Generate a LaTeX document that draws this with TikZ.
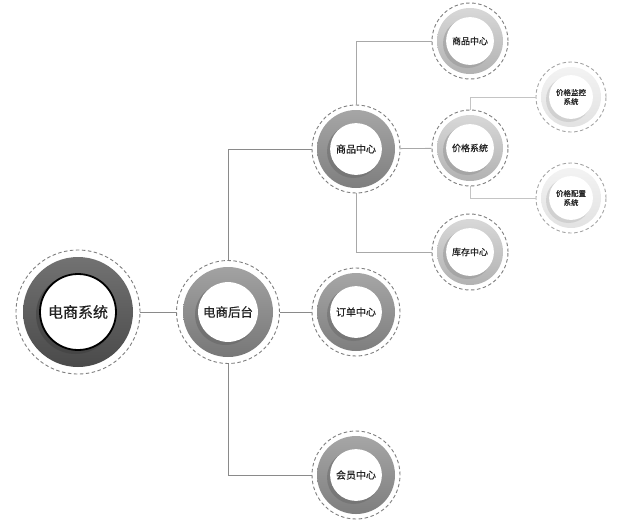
\documentclass[tikz,border=0pt]{standalone}
\usepackage{fontspec}
\setmainfont{Noto Sans CJK SC}[FakeBold=0.6]
\definecolor{dashc}{HTML}{7E7E7E}
\definecolor{dashl}{HTML}{A4A4A4}
\definecolor{txt}{HTML}{222222}
\definecolor{ringA}{HTML}{4A4A4A}\definecolor{ringAl}{HTML}{727272}
\definecolor{ringB}{HTML}{777777}\definecolor{ringBl}{HTML}{A2A2A2}
\definecolor{ringC}{HTML}{7E7E7E}\definecolor{ringCl}{HTML}{A6A6A6}
\definecolor{ringD}{HTML}{B2B2B2}\definecolor{ringDl}{HTML}{D8D8D8}
\definecolor{ringE}{HTML}{E2E2E2}\definecolor{ringEl}{HTML}{F3F3F3}
\definecolor{lineA}{HTML}{8A8A8A}
\definecolor{lineB}{HTML}{A8A8A8}
\definecolor{lineC}{HTML}{C4C4C4}
\tikzset{
  ringnode/.style n args={8}{circle, draw=#7, dash pattern=on 3.5pt off 2.5pt,
    line width=0.9pt, minimum size=#1, inner sep=0pt, align=center,
    text=txt, font=#6,
    path picture={
      \coordinate (pc) at (path picture bounding box.center);
      \shade[shading angle=45, top color=#2, bottom color=#3] (pc) circle (#4);
      \fill[#3!85!black, opacity=0.55] ([shift={(-2.5pt,-2.5pt)}]pc) circle (#5+1.5pt);
      \fill[white, draw=#8, solid, line width=1.8pt] (pc) circle (#5);
    }},
  lvlzero/.style={ringnode={124pt}{ringAl}{ringA}{55pt}{38pt}{\fontsize{15pt}{17pt}\selectfont}{dashc}{black}},
  lvlone/.style={ringnode={103pt}{ringBl}{ringB}{45pt}{29pt}{\fontsize{12.5pt}{14pt}\selectfont}{dashc}{white}},
  lvltwo/.style={ringnode={88pt}{ringCl}{ringC}{39pt}{25pt}{\fontsize{10pt}{12pt}\selectfont}{dashc}{white}},
  lvlthree/.style={ringnode={76pt}{ringDl}{ringD}{33pt}{23pt}{\fontsize{9pt}{11pt}\selectfont}{dashc}{white}},
  lvlfour/.style={ringnode={70pt}{ringEl}{ringE}{30pt}{21pt}{\fontsize{7.5pt}{9pt}\selectfont}{dashl}{white}},
  conn/.style={line width=0.8pt, draw=#1},
}
\begin{document}
\begin{tikzpicture}[x=1pt,y=-1pt]
\useasboundingbox (0,0) rectangle (617,528);
\node[lvlzero] (root) at (78,312) {电商系统};
\node[lvlone] (hou) at (228,312) {电商后台};
\node[lvltwo] (spzx) at (356,149) {商品中心};
\node[lvltwo] (ddzx) at (356,312) {订单中心};
\node[lvltwo] (hyzx) at (356,475) {会员中心};
\node[lvlthree] (sptop) at (470,41) {商品中心};
\node[lvlthree] (jgxt) at (470,148) {价格系统};
\node[lvlthree] (kczx) at (470,252) {库存中心};
\node[lvlfour] (jgjk) at (571,97) {价格监控\\系统};
\node[lvlfour] (jgpz) at (571,198) {价格配置\\系统};
\draw[conn=lineA] (root) -- (hou);
\draw[conn=lineA] (hou.north) |- (spzx.west);
\draw[conn=lineA] (hou) -- (ddzx);
\draw[conn=lineA] (hou.south) |- (hyzx.west);
\draw[conn=lineB] (spzx.north) |- (sptop.west);
\draw[conn=lineB] (spzx) -- (jgxt);
\draw[conn=lineB] (spzx.south) |- (kczx.west);
\draw[conn=lineC] (jgxt.north) |- (jgjk.west);
\draw[conn=lineC] (jgxt.south) |- (jgpz.west);
\end{tikzpicture}
\end{document}
